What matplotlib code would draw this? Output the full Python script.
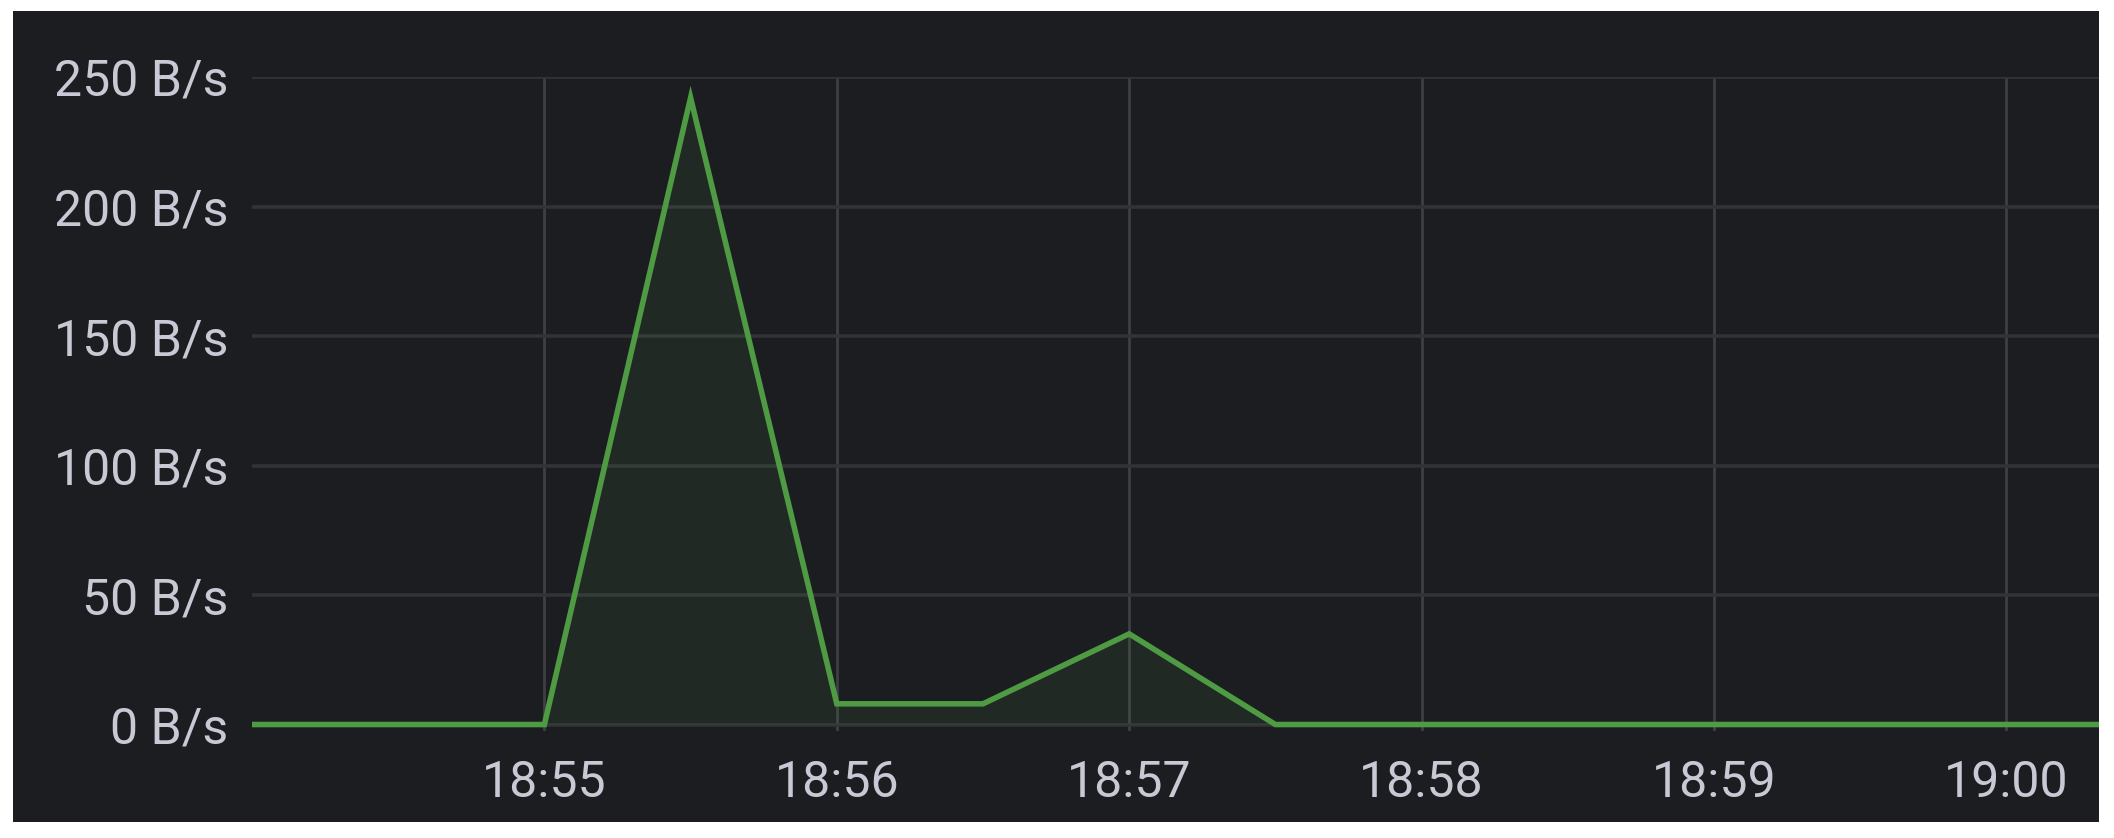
#!/usr/bin/python
"""
    Recreate the dark dashboard style throughput panel (B/s over time)
"""

# import python third party modules
import matplotlib
matplotlib.use('Agg')
import matplotlib.pyplot as plt
from matplotlib.patches import Rectangle
import pandas as pd

# define global variables
DAY = '2023-01-01 '
TIMES = [
    '18:54:00', '18:54:30', '18:55:00', '18:55:30', '18:56:00', '18:56:30',
    '18:57:00', '18:57:30', '18:58:00', '18:58:30', '18:59:00', '18:59:30',
    '19:00:00', '19:00:30'
]
RATES = [0, 0, 0, 242, 8, 8, 35, 0, 0, 0, 0, 0, 0, 0]  # B/s
X_TICKS = ['18:55', '18:56', '18:57', '18:58', '18:59', '19:00']
Y_TICKS = [0, 50, 100, 150, 200, 250]
X_RANGE = ['18:54:00', '19:00:19']

BG = '#1b1d21'
HGRID = '#313337'
VGRID = '#3d3f43'
TEXT = '#c9c9d5'
GREEN = '#4f9b43'

W_PX, H_PX = 2114, 838


def px(x0, y0, x1, y1):
    """ convert a pixel box (top-left origin) into figure fractions """
    return [x0 / W_PX, 1 - y1 / H_PX, (x1 - x0) / W_PX, (y1 - y0) / H_PX]


# make the plot
plt.rcParams['font.family'] = ['Roboto', 'DejaVu Sans']
fig = plt.figure(figsize=(W_PX / 100, H_PX / 100), dpi=100)
fig.patch.set_facecolor('white')

# dark panel behind the chart
panel = px(13, 11, 2099, 822)
fig.patches.append(Rectangle(
    (panel[0], panel[1]), panel[2], panel[3], transform=fig.transFigure,
    facecolor=BG, edgecolor='none', zorder=-10
))

ax = fig.add_axes(px(252, 77, 2099, 731))
ax.set_facecolor(BG)

times = pd.to_datetime([DAY + t for t in TIMES])
ax.fill_between(times, 0, RATES, color=GREEN, alpha=0.1, linewidth=0)
ax.plot(times, RATES, color=GREEN, linewidth=4.0, solid_joinstyle='miter')

# axis limits and ticks
ax.set_xlim(pd.to_datetime(DAY + X_RANGE[0]), pd.to_datetime(DAY + X_RANGE[1]))
ax.set_ylim(-2.5, 250)
ax.set_xticks(pd.to_datetime([DAY + t for t in X_TICKS]))
ax.set_xticklabels(X_TICKS)
ax.set_yticks(Y_TICKS)
ax.set_yticklabels(['%d B/s' % v for v in Y_TICKS])
ax.tick_params(axis='both', length=0, labelsize=36, labelcolor=TEXT)
ax.tick_params(axis='x', pad=20)
ax.tick_params(axis='y', pad=17)

# grid lines
ax.grid(True, axis='y', color=HGRID, linewidth=2.6)
ax.grid(True, axis='x', color=VGRID, linewidth=2.0)
ax.set_axisbelow(True)
for spine in ax.spines.values():
    spine.set_visible(False)

plt.savefig('out.png', dpi=100, facecolor='white')
